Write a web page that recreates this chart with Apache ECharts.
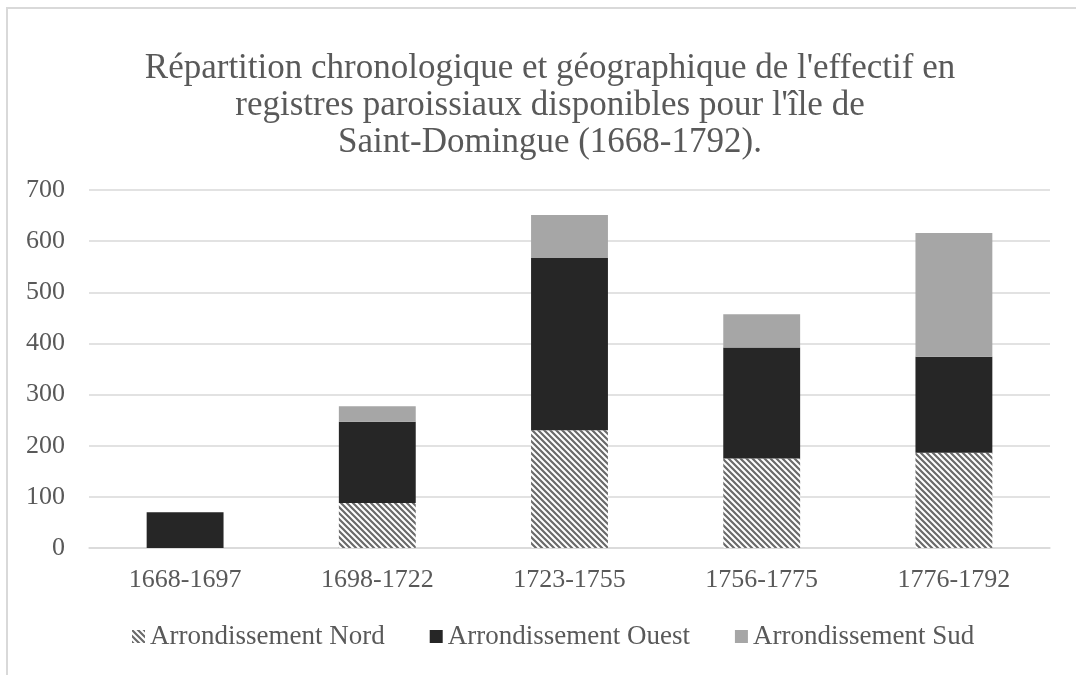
<!DOCTYPE html>
<html>
<head>
<meta charset="utf-8">
<script src="https://cdn.jsdelivr.net/npm/echarts@6/dist/echarts.min.js"></script>
<style>
  html, body { margin: 0; padding: 0; background: #fff; }
  #chart { width: 1076px; height: 675px; }
</style>
</head>
<body>
<div id="chart"></div>
<script>
// periods and register counts per arrondissement
const categories = ['1668-1697', '1698-1722', '1723-1755', '1756-1775', '1776-1792'];
const nord = [0, 88, 230, 175, 186];
const ouest = [70, 159, 337, 217, 188];
const sud = [0, 30, 84, 65, 242];
const yTicks = [0, 100, 200, 300, 400, 500, 600, 700];

const FONT = '"Liberation Serif", "DejaVu Serif", serif';
const TXT = '#595959';

// diagonal hatch for the Nord series
function hatch() {
    const s = 6;
    const c = document.createElement('canvas');
    c.width = s; c.height = s;
    const ctx = c.getContext('2d');
    ctx.fillStyle = '#fff';
    ctx.fillRect(0, 0, s, s);
    ctx.strokeStyle = '#6a6a6a';
    ctx.lineWidth = 2.2;
    ctx.beginPath();
    ctx.moveTo(-2, -2); ctx.lineTo(s + 2, s + 2);
    ctx.moveTo(-2, s - 2); ctx.lineTo(2, s + 2);
    ctx.moveTo(s - 2, -2); ctx.lineTo(s + 2, 2);
    ctx.stroke();
    return c;
}
const hatchFill = { image: hatch(), repeat: 'repeat' };

let chart = echarts.init(document.getElementById('chart'));
chart.setOption({
    animation: false,
    graphic: [{
        type: 'rect',
        shape: { x: 7, y: 8, width: 1200, height: 800 },
        style: { fill: 'none', stroke: '#d9d9d9', lineWidth: 2 },
        silent: true
    }],
    title: {
        text: "Répartition chronologique et géographique de l'effectif en\nregistres paroissiaux disponibles pour l'île de\nSaint-Domingue (1668-1792).",
        left: 545,
        textAlign: 'center',
        top: 45,
        textStyle: { fontFamily: FONT, fontSize: 35, fontWeight: 'normal', color: TXT, lineHeight: 37 }
    },
    legend: {
        bottom: 20,
        left: 127,
        itemGap: 45,
        itemWidth: 13,
        itemHeight: 13,
        icon: 'rect',
        textStyle: { fontFamily: FONT, fontSize: 27, color: TXT },
        data: ['Arrondissement Nord', 'Arrondissement Ouest', 'Arrondissement Sud']
    },
    grid: { left: 89, right: 26, top: 190, bottom: 127 },
    xAxis: {
        type: 'category',
        data: categories,
        axisLine: { lineStyle: { color: '#d9d9d9', width: 1.5 } },
        axisTick: { show: false },
        axisLabel: { fontFamily: FONT, fontSize: 26, color: TXT, margin: 19 }
    },
    yAxis: {
        type: 'value',
        min: yTicks[0],
        max: yTicks[yTicks.length - 1],
        interval: 100,
        axisLine: { show: false },
        axisTick: { show: false },
        splitLine: { lineStyle: { color: '#d9d9d9', width: 1.5 } },
        axisLabel: { fontFamily: FONT, fontSize: 26, color: TXT, margin: 24 }
    },
    series: [
        { name: 'Arrondissement Nord', type: 'bar', stack: 'a', data: nord, barWidth: '40%',
          itemStyle: { color: hatchFill } },
        { name: 'Arrondissement Ouest', type: 'bar', stack: 'a', data: ouest,
          itemStyle: { color: '#262626' } },
        { name: 'Arrondissement Sud', type: 'bar', stack: 'a', data: sud,
          itemStyle: { color: '#a6a6a6' } }
    ]
});
</script>
</body>
</html>
